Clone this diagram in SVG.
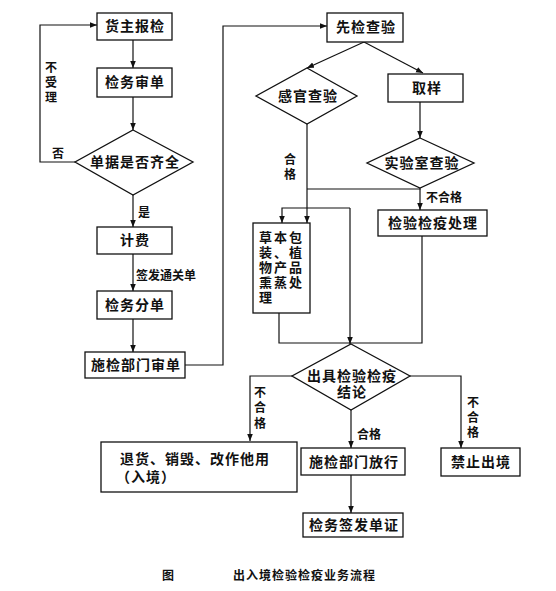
<svg xmlns="http://www.w3.org/2000/svg" width="556" height="591" viewBox="0 0 556 591">
<defs>
<marker id="ah" viewBox="0 0 10 10" refX="10" refY="5" markerWidth="7" markerHeight="7" markerUnits="userSpaceOnUse" orient="auto">
<path d="M0,1 L10,5 L0,9 Z" fill="#111"/>
</marker>
<style>
.b{fill:#fff;stroke:#111;stroke-width:1.3}
.t{font-family:"Noto Sans CJK SC","Noto Sans",sans-serif;font-size:14px;font-weight:bold;fill:#111;letter-spacing:1px}
.v{font-family:"Noto Sans CJK SC","Noto Sans",sans-serif;font-size:13px;font-weight:bold;fill:#111;letter-spacing:2px}
.s{font-family:"Noto Sans CJK SC","Noto Sans",sans-serif;font-size:12px;font-weight:bold;fill:#111}
.c{fill:none;stroke:#111;stroke-width:1.2}
.m{text-anchor:middle}
</style>
</defs>
<rect width="556" height="591" fill="#fff"/>
<g id="connectors">
<path class="c" d="M133,40 V68" marker-end="url(#ah)"/>
<path class="c" d="M133,97 V130" marker-end="url(#ah)"/>
<path class="c" d="M75,162 H40 V25 H97" marker-end="url(#ah)"/>
<path class="c" d="M133,195 V227" marker-end="url(#ah)"/>
<path class="c" d="M133,254 V291" marker-end="url(#ah)"/>
<path class="c" d="M133,319 V352" marker-end="url(#ah)"/>
<path class="c" d="M185,365 H223 V26 H327" marker-end="url(#ah)"/>
<path class="c" d="M364,42 L307,68" marker-end="url(#ah)"/>
<path class="c" d="M364,42 L423,73" marker-end="url(#ah)"/>
<path class="c" d="M420,102 V138" marker-end="url(#ah)"/>
<path class="c" d="M307,124 V223" marker-end="url(#ah)"/>
<path class="c" d="M420,188 V189 H307"/>
<path class="c" d="M420,189 V210" marker-end="url(#ah)"/>
<path class="c" d="M350,208 H282 V223" marker-end="url(#ah)"/>
<path class="c" d="M350,208 V344" marker-end="url(#ah)"/>
<path class="c" d="M279,313 V343 H422 V236"/>
<path class="c" d="M292,376 H250 V441" marker-end="url(#ah)"/>
<path class="c" d="M351,410 V448" marker-end="url(#ah)"/>
<path class="c" d="M410,376 H461 V448" marker-end="url(#ah)"/>
<path class="c" d="M351,475 V513" marker-end="url(#ah)"/>
<text class="s m"><tspan x="51" y="72">不</tspan><tspan x="51" y="87">受</tspan><tspan x="51" y="102">理</tspan></text>
<text class="s" x="52" y="158">否</text>
<text class="s" x="138" y="217">是</text>
<text class="s" x="136" y="280">签发通关单</text>
<text class="s m"><tspan x="290" y="164">合</tspan><tspan x="290" y="179">格</tspan></text>
<text class="s" x="426" y="202">不合格</text>
<text class="s m"><tspan x="260" y="397">不</tspan><tspan x="260" y="412">合</tspan><tspan x="260" y="428">格</tspan></text>
<text class="s" x="357" y="439">合格</text>
<text class="s m"><tspan x="473" y="407">不</tspan><tspan x="473" y="422">合</tspan><tspan x="473" y="437">格</tspan></text>
</g>
<g id="n1"><rect class="b" x="97" y="13" width="75" height="27"/><text class="t m" x="135" y="31">货主报检</text></g>
<g id="n2"><rect class="b" x="97" y="68" width="75" height="29"/><text class="t m" x="135" y="87">检务审单</text></g>
<g id="n3"><polygon class="b" points="133,130 193,162 133,195 75,162"/><text class="t m" x="135" y="167">单据是否齐全</text></g>
<g id="n4"><rect class="b" x="97" y="227" width="75" height="27"/><text class="t m" x="135" y="245">计费</text></g>
<g id="n5"><rect class="b" x="97" y="291" width="75" height="28"/><text class="t m" x="135" y="310">检务分单</text></g>
<g id="n6"><rect class="b" x="85" y="352" width="100" height="26"/><text class="t m" x="136" y="370">施检部门审单</text></g>
<g id="n7"><rect class="b" x="327" y="13" width="76" height="29"/><text class="t m" x="366" y="32">先检查验</text></g>
<g id="n8"><polygon class="b" points="307,68 357,96 307,124 256,96"/><text class="t m" x="308" y="101">感官查验</text></g>
<g id="n9"><rect class="b" x="388" y="74" width="75" height="28"/><text class="t m" x="427" y="93">取样</text></g>
<g id="n10"><polygon class="b" points="420,138 474,163 420,188 367,163"/><text class="t m" x="422" y="168">实验室查验</text></g>
<g id="n11"><rect class="b" x="253" y="223" width="57" height="90"/>
<text class="v"><tspan x="259" y="242">草本包</tspan><tspan x="259" y="257">装、植</tspan><tspan x="259" y="272">物产品</tspan><tspan x="259" y="287">熏蒸处</tspan><tspan x="259" y="302">理</tspan></text></g>
<g id="n12"><rect class="b" x="378" y="210" width="109" height="26"/><text class="t m" x="433" y="228">检验检疫处理</text></g>
<g id="n13"><polygon class="b" points="351,344 410,376 351,410 292,376"/><text class="t m"><tspan x="352" y="381">出具检验检疫</tspan><tspan x="352" y="397">结论</tspan></text></g>
<g id="n14"><rect class="b" x="101" y="442" width="196" height="50"/><text class="t"><tspan x="120" y="464">退货、销毁、改作他用</tspan><tspan x="116" y="482">（入境）</tspan></text></g>
<g id="n15"><rect class="b" x="301" y="448" width="104" height="27"/><text class="t m" x="354" y="467">施检部门放行</text></g>
<g id="n16"><rect class="b" x="441" y="448" width="79" height="28"/><text class="t m" x="481" y="467">禁止出境</text></g>
<g id="n17"><rect class="b" x="303" y="513" width="100" height="24"/><text class="t m" x="354" y="530">检务签发单证</text></g>
<g id="caption">
<text class="s" x="162" y="580">图</text>
<text class="s" x="233" y="580" letter-spacing="1">出入境检验检疫业务流程</text>
</g>
</svg>
